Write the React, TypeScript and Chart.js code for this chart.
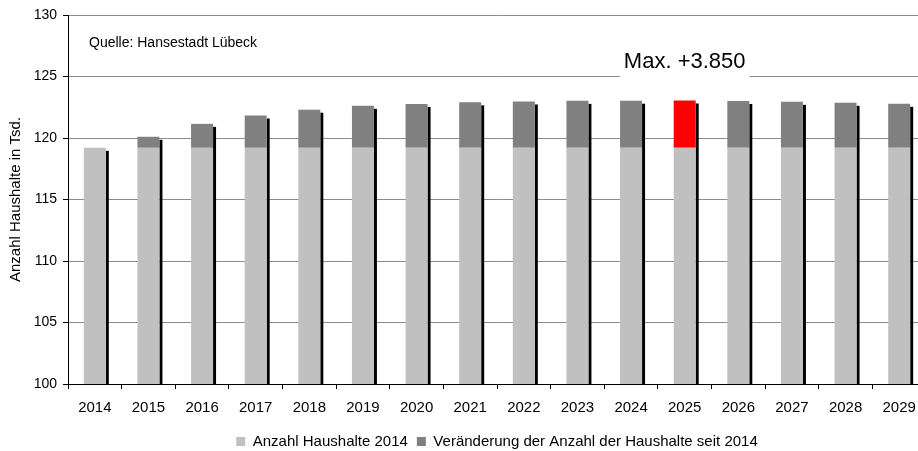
import React, { useEffect, useRef } from "react";
import { Chart, registerables } from "chart.js";

Chart.register(...registerables);

const years = ["2014","2015","2016","2017","2018","2019","2020","2021","2022","2023","2024","2025","2026","2027","2028","2029"];
const base2014 = [119.2,119.2,119.2,119.2,119.2,119.2,119.2,119.2,119.2,119.2,119.2,119.2,119.2,119.2,119.2,119.2];
const change = [0,0.9,1.95,2.63,3.1,3.42,3.57,3.7,3.77,3.82,3.83,3.85,3.81,3.74,3.66,3.58];
const maxIndex = 11;
const maxLabel = "Max. +3.850";
const sourceText = "Quelle: Hansestadt Lübeck";
const yTitle = "Anzahl Haushalte in Tsd.";
const seriesNames = ["Anzahl Haushalte 2014", "Veränderung der Anzahl der Haushalte seit 2014"];

const FONT = "'Liberation Sans', Arial, sans-serif";

const shadowPlugin = {
  id: "barShadow",
  beforeDatasetsDraw(chart: any) {
    const ctx = chart.ctx;
    const meta = chart.getDatasetMeta(1);
    const bottom = chart.scales.y.getPixelForValue(100);
    ctx.save();
    ctx.fillStyle = "#000";
    meta.data.forEach((bar: any) => {
      const right = bar.x + bar.width / 2;
      const top = Math.min(bar.y, bar.base) + 3;
      ctx.fillRect(right, top, 3, bottom - top);
    });
    ctx.restore();
  },
};

const annotationPlugin = {
  id: "annot",
  afterDatasetsDraw(chart: any) {
    const ctx = chart.ctx;
    const x = chart.scales.x.getPixelForValue(maxIndex);
    const area = chart.chartArea;
    ctx.save();
    ctx.font = `22px ${FONT}`;
    const w = ctx.measureText(maxLabel).width + 8;
    const cy = chart.scales.y.getPixelForValue(126.2);
    ctx.fillStyle = "#fff";
    ctx.fillRect(x - w / 2, cy - 16, w, 34);
    ctx.fillStyle = "#000";
    ctx.textAlign = "center";
    ctx.textBaseline = "middle";
    ctx.fillText(maxLabel, x, cy);
    ctx.font = `14px ${FONT}`;
    ctx.textAlign = "left";
    ctx.fillText(sourceText, area.left + 21, chart.scales.y.getPixelForValue(127.72));
    ctx.restore();
  },
};

const legendShift = {
  id: "legendShift",
  beforeDraw(chart: any) {
    const lg = chart.legend;
    if (!lg) return;
    const h = lg.height;
    lg.top = chart.height - h + 8;
    lg.bottom = lg.top + h;
  },
};

const LEGEND_PAD = 9;

export default function App() {
  const ref = useRef<HTMLCanvasElement>(null);
  useEffect(() => {
    document.body.style.margin = "0";
    const chart = new Chart(ref.current!, {
      type: "bar",
      data: {
        labels: years,
        datasets: [
          {
            label: seriesNames[0],
            data: base2014,
            backgroundColor: "#c0c0c0",
            barPercentage: 0.41,
            categoryPercentage: 1,
          },
          {
            label: seriesNames[1],
            data: change,
            backgroundColor: change.map((_, i) => (i === maxIndex ? "#ff0000" : "#808080")),
            barPercentage: 0.41,
            categoryPercentage: 1,
          },
        ],
      },
      plugins: [shadowPlugin, annotationPlugin, legendShift],
      options: {
        responsive: false,
        animation: false,
        layout: { padding: { top: 15, left: 7, right: 0, bottom: 0 } },
        plugins: {
          legend: {
            position: "bottom",
            fullSize: false,
            labels: {
              color: "#000",
              font: { family: FONT, size: 15 },
              boxWidth: 9,
              boxHeight: 9,
              padding: LEGEND_PAD,
              generateLabels: () =>
                seriesNames.map((n, i) => ({
                  text: n,
                  fillStyle: i === 0 ? "#c0c0c0" : "#808080",
                  strokeStyle: i === 0 ? "#c0c0c0" : "#808080",
                  lineWidth: 0,
                  datasetIndex: i,
                  hidden: false,
                })),
            },
          },
          tooltip: { enabled: false },
        },
        scales: {
          x: {
            stacked: true,
            offset: true,
            grid: {
              display: true,
              drawOnChartArea: false,
              offset: true,
              tickColor: "#000",
              tickLength: 5,
            },
            border: { display: true, color: "#000", width: 1 },
            ticks: { color: "#000", font: { family: FONT, size: 15 }, padding: 10, maxRotation: 0 },
            afterFit: (s: any) => { s.height = 67 - (15 + LEGEND_PAD + 10); },
          },
          y: {
            stacked: true,
            min: 100,
            max: 130,
            ticks: { stepSize: 5, color: "#000", font: { family: FONT, size: 14 }, padding: 6 },
            grid: { color: "#8c8c8c", tickColor: "#000", tickLength: 5 },
            border: { display: true, color: "#000", width: 1 },
            title: { display: true, text: yTitle, color: "#000", font: { family: FONT, size: 15 }, padding: 0 },
            afterFit: (s: any) => { s.width = 61; },
          },
        },
      },
    });
    return () => chart.destroy();
  }, []);
  return (
    <div style={{ width: 918, height: 451, overflow: "hidden" }}>
      <canvas ref={ref} width={926} height={451} style={{ width: 926, height: 451, display: "block" }} />
    </div>
  );
}
